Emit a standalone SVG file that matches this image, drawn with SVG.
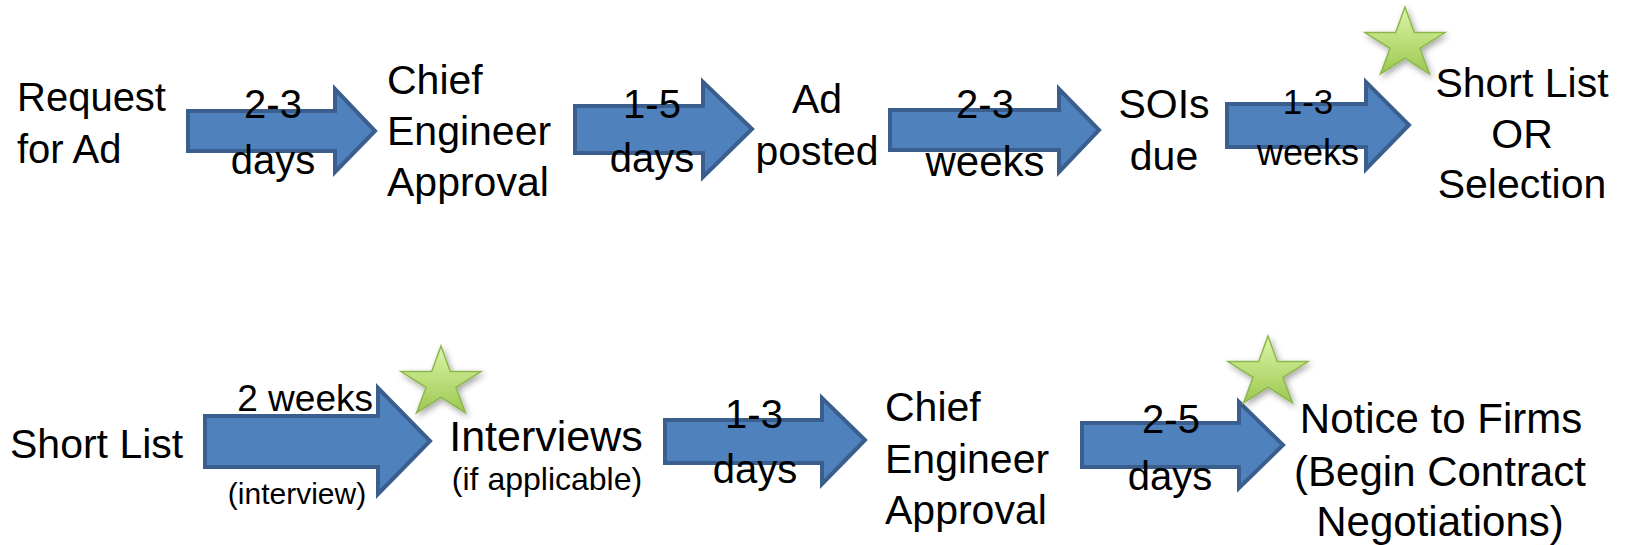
<svg xmlns="http://www.w3.org/2000/svg" width="1625" height="545" viewBox="0 0 1625 545">
<style>
.t{font-family:"Liberation Sans",Arial,sans-serif;font-size:41px;fill:#000}
.l{font-family:"Liberation Sans",Arial,sans-serif;font-size:40px;fill:#000;text-anchor:middle}
.c{text-anchor:middle}
.arrow{fill:#4f81bd;stroke:#3a5f8e;stroke-width:4;stroke-linejoin:miter}
.star{fill:url(#sg);stroke:#8db64c;stroke-width:1.5}
</style>
<defs>
<linearGradient id="sg" x1="0" y1="0" x2="0" y2="1">
<stop offset="0" stop-color="#dcf5a8"/>
<stop offset="1" stop-color="#9cc850"/>
</linearGradient>
<filter id="sh" x="-30%" y="-30%" width="160%" height="160%">
<feDropShadow dx="2" dy="3" stdDeviation="3" flood-color="#000" flood-opacity="0.35"/>
</filter>
<polygon id="starShape" points="0,-37 9.3,-11.4 40,-11.4 15,4.4 24.5,30 0,14.1 -24.5,30 -15,4.4 -40,-11.4 -9.3,-11.4"/>
</defs>
<rect width="1625" height="545" fill="#fff"/>

<g id="connectors">
<path class="arrow" d="M188,111 H335 V89 L375,131 L335,172 V151 H188 Z"/>
<path class="arrow" d="M575,106 H703 V82 L752,129 L703,177 V153 H575 Z"/>
<path class="arrow" d="M890,110 H1059 V89 L1099,130 L1059,172 V150 H890 Z"/>
<path class="arrow" d="M1227,104 H1366 V82 L1409,125 L1366,169 V147 H1227 Z"/>
<path class="arrow" d="M205,416 H378 V388 L430,441 L378,494 V467 H205 Z"/>
<path class="arrow" d="M665,420 H822 V398 L865,440 L822,484 V463 H665 Z"/>
<path class="arrow" d="M1082,423 H1239 V402 L1283,445 L1239,488 V467 H1082 Z"/>
</g>

<g id="labels">
<text class="l" x="273" y="118">2-3</text>
<text class="l" x="273" y="174">days</text>
<text class="l" x="652" y="118">1-5</text>
<text class="l" x="652" y="172">days</text>
<text class="l" x="985" y="118">2-3</text>
<text class="l" x="985" y="176" style="font-size:42px">weeks</text>
<text class="l" x="1308" y="114" style="font-size:35px">1-3</text>
<text class="l" x="1308" y="165" style="font-size:36px">weeks</text>
<text class="l" x="373" y="411" style="font-size:37px;text-anchor:end">2 weeks</text>
<text class="l" x="297" y="504" style="font-size:30px">(interview)</text>
<text class="l" x="754" y="428">1-3</text>
<text class="l" x="755" y="483">days</text>
<text class="l" x="1171" y="433">2-5</text>
<text class="l" x="1170" y="490">days</text>
</g>

<g id="star1" filter="url(#sh)"><use href="#starShape" class="star" transform="translate(1405,44)"/></g>
<g id="star2" filter="url(#sh)"><use href="#starShape" class="star" transform="translate(441,383)"/></g>
<g id="star3" filter="url(#sh)"><use href="#starShape" class="star" transform="translate(1268,373)"/></g>

<g id="request">
<text class="t" x="17" y="111" style="font-size:40px">Request</text>
<text class="t" x="17" y="163" style="font-size:40px">for Ad</text>
</g>
<g id="chief1">
<text class="t" x="387" y="94">Chief</text>
<text class="t" x="387" y="145">Engineer</text>
<text class="t" x="387" y="196">Approval</text>
</g>
<g id="adposted">
<text class="t c" x="817" y="113">Ad</text>
<text class="t c" x="817" y="165">posted</text>
</g>
<g id="sois">
<text class="t c" x="1164" y="118">SOIs</text>
<text class="t c" x="1164" y="170">due</text>
</g>
<g id="shortlist1">
<text class="t c" x="1522" y="97">Short List</text>
<text class="t c" x="1522" y="148">OR</text>
<text class="t c" x="1522" y="198">Selection</text>
</g>
<g id="shortlist2">
<text class="t" x="10" y="458">Short List</text>
</g>
<g id="interviews">
<text class="t c" x="546" y="451" style="font-size:43px">Interviews</text>
<text class="t c" x="547" y="490" style="font-size:32px">(if applicable)</text>
</g>
<g id="chief2">
<text class="t" x="885" y="421">Chief</text>
<text class="t" x="885" y="473">Engineer</text>
<text class="t" x="885" y="524">Approval</text>
</g>
<g id="notice">
<text class="t c" x="1441" y="433" style="font-size:42px">Notice to Firms</text>
<text class="t c" x="1440" y="486" style="font-size:42px">(Begin Contract</text>
<text class="t c" x="1440" y="536" style="font-size:42px">Negotiations)</text>
</g>
</svg>
